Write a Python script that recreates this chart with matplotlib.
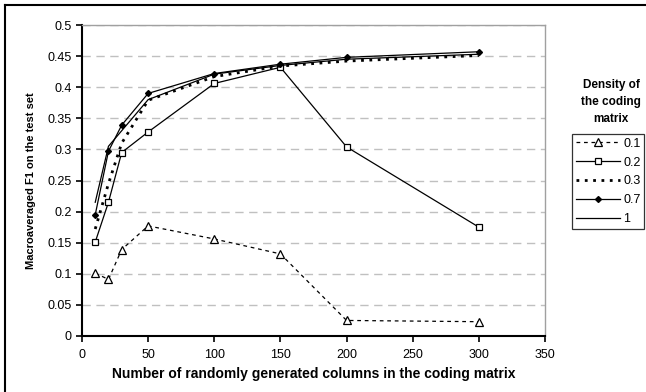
import matplotlib
matplotlib.use("Agg")
import matplotlib.pyplot as plt
from matplotlib.lines import Line2D

plt.rcParams['font.family'] = ['Liberation Sans', 'DejaVu Sans']

columns = [10, 20, 30, 50, 100, 150, 200, 300]
d01 = [0.101, 0.091, 0.139, 0.177, 0.156, 0.132, 0.025, 0.023]
d02 = [0.151, 0.215, 0.295, 0.328, 0.406, 0.432, 0.304, 0.175]
d03 = [0.172, 0.245, 0.310, 0.379, 0.417, 0.434, 0.442, 0.451]
d07 = [0.195, 0.297, 0.339, 0.390, 0.422, 0.437, 0.448, 0.457]
d1 = [0.215, 0.305, 0.330, 0.380, 0.421, 0.435, 0.445, 0.453]
labels = ['0.1', '0.2', '0.3', '0.7', '1']
yticks = [0, 0.05, 0.1, 0.15, 0.2, 0.25, 0.3, 0.35, 0.4, 0.45, 0.5]
xticks = [0, 50, 100, 150, 200, 250, 300, 350]

W, H = 646, 392
fig = plt.figure(figsize=(W/100, H/100), dpi=100)
ax = fig.add_axes([82/W, 1-336/H, (545-82)/W, (336-25)/H])

ax.plot(columns, d01, color='black', lw=0.9, ls=(0, (3, 3)), marker='^', ms=5.5,
        mfc='white', mec='black', mew=0.9, label=labels[0], zorder=3)
ax.plot(columns, d02, color='black', lw=0.9, ls='-', marker='s', ms=5,
        mfc='white', mec='black', mew=0.9, label=labels[1], zorder=3)
ax.plot(columns, d03, color='black', lw=2.0, ls=(0, (1, 2)), label=labels[2], zorder=3)
ax.plot(columns, d07, color='black', lw=0.9, ls='-', marker='D', ms=3,
        mfc='black', mec='black', label=labels[3], zorder=3)
ax.plot(columns, d1, color='black', lw=0.9, ls='-', label=labels[4], zorder=3)

ax.set_xlim(0, 350)
ax.set_ylim(0, 0.5)
ax.set_xticks(xticks)
ax.set_yticks(yticks)
ax.set_xticklabels([str(v) for v in xticks])
ax.set_yticklabels([f"{v:g}" for v in yticks])
ax.tick_params(axis='both', labelsize=9, direction='out', length=4, width=1.2, color='black')
ax.tick_params(axis='x', pad=5)
ax.yaxis.grid(True, color='#c0c0c0', ls=(0, (6, 4)), lw=1.0)
ax.set_axisbelow(True)
for s in ['top', 'right']:
    ax.spines[s].set_color('#a0a0a0')
    ax.spines[s].set_linewidth(1.0)
for s in ['left', 'bottom']:
    ax.spines[s].set_color('black')
    ax.spines[s].set_linewidth(1.5)

ax.set_xlabel('Number of randomly generated columns in the coding matrix',
              fontsize=10, fontweight='bold', labelpad=5)
ax.set_ylabel('Macroaveraged F1 on the test set', fontsize=8, fontweight='bold', labelpad=8)

leg = ax.legend(loc='upper left', bbox_to_anchor=(572/W, 1-134/H), bbox_transform=fig.transFigure,
                frameon=True, fontsize=9, handlelength=3.5, handletextpad=0.3,
                borderpad=0.3, labelspacing=0.55, fancybox=False, borderaxespad=0)
leg.get_frame().set_edgecolor('black')
leg.get_frame().set_linewidth(0.9)

fig.text(611/W, 1-102/H, 'Density of\nthe coding\nmatrix', ha='center', va='center',
         fontsize=8.5, fontweight='bold', linespacing=1.6)

# outer frame (left and top edges visible)
fig.add_artist(Line2D([5/W, 5/W], [0, 1-5/H], transform=fig.transFigure, color='black', lw=1.5))
fig.add_artist(Line2D([5/W, 645/W], [1-5/H, 1-5/H], transform=fig.transFigure, color='black', lw=1.5))

fig.savefig('out.png', dpi=100)
